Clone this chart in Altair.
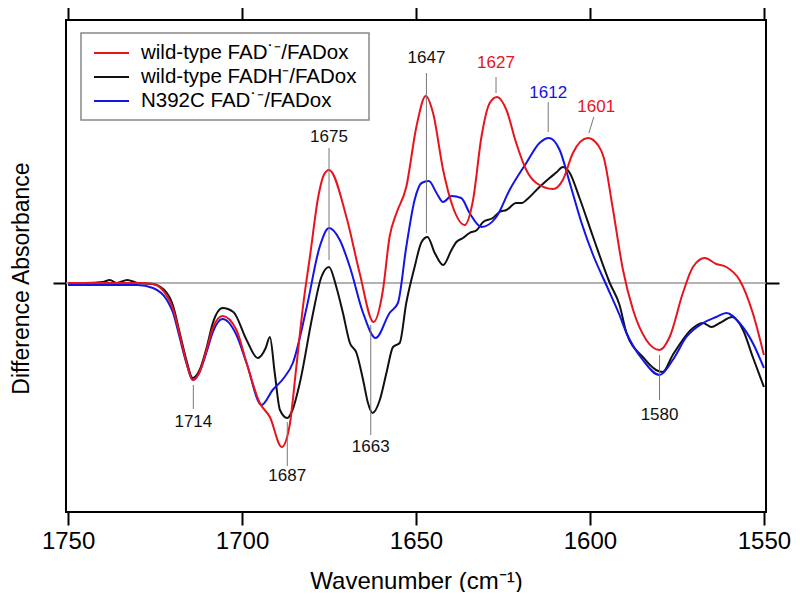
import altair as alt
import pandas as pd

# ---------------- data ----------------
red_wn = [1750, 1740, 1730, 1725.6, 1721.6, 1719.9, 1717.9, 1716, 1714.2, 1712.2,
          1710.2, 1708.4, 1705.6, 1701.6, 1698.7, 1694.9, 1692, 1688.6, 1686.4, 1684.4,
          1682.5, 1680.5, 1678, 1676.5, 1675, 1670, 1666.2, 1662.2, 1659.5, 1657.6,
          1655.6, 1652.8, 1649.9, 1647.2, 1645.1, 1642.2, 1639.4, 1636, 1633.6, 1631.2,
          1628.8, 1626.7, 1624, 1621.2, 1618.3, 1615.4, 1610.6, 1607.8, 1604.9, 1600.6,
          1597.5, 1596, 1593.5, 1590.5, 1587.6, 1583.8, 1580, 1577.1, 1573.3, 1570.4,
          1567, 1563.7, 1560.8, 1557, 1553.2, 1550]
red_val = [0, 0, 0, -0.01, -0.13, -0.25, -0.52, -0.79, -0.97, -0.89,
           -0.67, -0.45, -0.33, -0.47, -0.80, -1.20, -1.34, -1.64, -1.44, -0.84,
           -0.24, 0.26, 0.88, 1.08, 1.13, 0.66, 0.10, -0.39, -0.07, 0.46,
           0.70, 0.96, 1.56, 1.87, 1.70, 1.13, 0.76, 0.58, 0.83, 1.46,
           1.80, 1.86, 1.73, 1.40, 1.13, 1.00, 0.94, 1.03, 1.30, 1.45,
           1.37, 1.25, 0.76, 0.13, -0.27, -0.57, -0.67, -0.54, -0.10, 0.16,
           0.25, 0.19, 0.16, 0.03, -0.30, -0.72]

black_wn = [1750, 1745, 1740, 1738, 1736, 1733, 1730, 1725.6, 1721.6, 1719.9,
            1717.9, 1716, 1714.2, 1712.2, 1710.2, 1708.4, 1705.6, 1702.5, 1698.7, 1695.5,
            1693.2, 1692, 1690.6, 1689.1, 1687, 1685.5, 1683.4, 1679.7, 1677.2, 1675,
            1672.9, 1671, 1669, 1667.1, 1665.2, 1663.8, 1662.5, 1660.4, 1658.5, 1656.6,
            1654.7, 1652.8, 1650.4, 1648.4, 1646.7, 1644.6, 1642.2, 1639.8, 1638.4, 1636.5,
            1634.6, 1632.5, 1630.7, 1627.9, 1626, 1624, 1621.2, 1619.5, 1618.3, 1614.5,
            1611.6, 1609.5, 1607.8, 1605.8, 1603, 1599.1, 1594.3, 1591.5, 1589.5, 1584.8,
            1581, 1579.1, 1576.2, 1570.4, 1567.5, 1565.1, 1562.7, 1559.1, 1556, 1553.2,
            1550]
black_val = [0, 0, 0.01, 0.03, 0, 0.03, 0, -0.01, -0.10, -0.22,
             -0.50, -0.77, -0.95, -0.87, -0.65, -0.40, -0.25, -0.29, -0.57, -0.75,
             -0.65, -0.54, -0.90, -1.27, -1.35, -1.27, -1.00, -0.32, 0.06, 0.16,
             -0.04, -0.30, -0.60, -0.70, -0.97, -1.20, -1.30, -1.17, -0.90, -0.64,
             -0.60, -0.20, 0.16, 0.41, 0.46, 0.30, 0.18, 0.33, 0.41, 0.45,
             0.50, 0.53, 0.61, 0.65, 0.71, 0.73, 0.80, 0.80, 0.83, 0.96,
             1.05, 1.11, 1.16, 1.10, 0.85, 0.46, 0, -0.22, -0.50, -0.74,
             -0.87, -0.89, -0.72, -0.45, -0.40, -0.44, -0.40, -0.34, -0.47, -0.74,
             -1.04]

blue_wn = [1750, 1740, 1730, 1725.6, 1721.6, 1719.9, 1717.9, 1716, 1714.2, 1712.2,
           1710.2, 1708.4, 1705.6, 1701.6, 1698.7, 1694.4, 1691.2, 1688, 1685.4, 1681.4,
           1677.7, 1675, 1671.9, 1669, 1665.2, 1661.6, 1657.6, 1655.2, 1652.8, 1650.4,
           1648.4, 1646.3, 1644.1, 1642.2, 1639.8, 1637, 1634.6, 1631.2, 1626.9, 1623.1,
           1618.3, 1614.5, 1611.8, 1608.7, 1605.8, 1602.5, 1599.1, 1595.3, 1591.5, 1589.5,
           1584.8, 1580, 1576.2, 1572.3, 1567.5, 1563.7, 1560.8, 1557, 1553.2, 1550]
blue_val = [-0.02, -0.02, -0.02, -0.05, -0.17, -0.29, -0.55, -0.80, -0.97, -0.89,
            -0.69, -0.49, -0.36, -0.52, -0.80, -1.22, -1.07, -0.95, -0.80, -0.24,
            0.36, 0.55, 0.43, 0.16, -0.30, -0.55, -0.30, -0.20, 0.36, 0.83,
            1.00, 1.02, 0.90, 0.81, 0.87, 0.85, 0.70, 0.56, 0.66, 0.93,
            1.20, 1.40, 1.45, 1.33, 1.00, 0.61, 0.28, -0.02, -0.32, -0.50,
            -0.77, -0.92, -0.77, -0.54, -0.40, -0.34, -0.30, -0.40, -0.60, -0.85]

series_names = ["wild-type FAD\u02d9\u207b/FADox", "wild-type FADH\u207b/FADox", "N392C FAD\u02d9\u207b/FADox"]
RED, BLACK, BLUE = "#e8141c", "#111111", "#1414e6"
series_colors = [RED, BLACK, BLUE]

ann_labels = ["1714", "1687", "1675", "1663", "1647", "1627", "1612", "1601", "1580"]
ann_wn_low = [1714, 1687, 1675, 1663, 1647, 1627, 1612, 1600.3, 1580]
ann_wn_high = [1714, 1687, 1675, 1663, 1647, 1627, 1612, 1598.9, 1580]
ann_y_low = [-1.26, -1.83, 0.23, -1.52, 0.50, 1.90, 1.51, 1.50, -1.17]
ann_y_high = [-1.02, -1.39, 1.35, -0.42, 2.10, 2.06, 1.81, 1.66, -0.72]
ann_label_wn = [1714, 1687, 1675, 1663, 1647, 1627, 1612, 1598.2, 1580]
ann_label_y = [-1.39, -1.93, 1.46, -1.64, 2.25, 2.20, 1.90, 1.76, -1.32]
ann_colors = [BLACK, BLACK, BLACK, BLACK, BLACK, RED, BLUE, RED, BLACK]

x_ticks = [1750, 1700, 1650, 1600, 1550]
y_ticks = [0]

# ---------------- chart ----------------
FONT = "Liberation Sans"
xscale = alt.Scale(domain=[1549.4, 1750.6], reverse=True, nice=False, zero=False)
yscale = alt.Scale(domain=[-2.29, 2.63], nice=False, zero=False)

df_red = pd.DataFrame({"wn": red_wn, "v": red_val})
df_black = pd.DataFrame({"wn": black_wn, "v": black_val})
df_blue = pd.DataFrame({"wn": blue_wn, "v": blue_val})

bottom_axis = alt.Axis(values=x_ticks, format="d", orient="bottom", domain=False, grid=False,
                       tickSize=13, tickWidth=2, tickColor="black",
                       labelFontSize=24, labelFont=FONT, labelColor="black", labelPadding=4,
                       title="Wavenumber (cm\u207b\u00b9)", titleFontSize=24, titleFont=FONT,
                       titleFontWeight="normal", titleColor="black", titleY=76,
                       titleBaseline="alphabetic")
left_axis = alt.Axis(values=y_ticks, orient="left", domain=False, grid=False, labels=False,
                     tickSize=13, tickWidth=2, tickColor="black",
                     title="Difference Absorbance", titleFontSize=23, titleFont=FONT,
                     titleFontWeight="normal", titleColor="black", titleX=-38, titleY=258,
                     titleBaseline="alphabetic")
top_axis = alt.Axis(values=x_ticks, orient="top", domain=False, grid=False, labels=False,
                    tickSize=13, tickWidth=2, tickColor="black", title=None)
right_axis = alt.Axis(values=y_ticks, orient="right", domain=False, grid=False, labels=False,
                      tickSize=13, tickWidth=2, tickColor="black", title=None)


def line_layer(df, color, xaxis=None, yaxis=None, opacity=1):
    return alt.Chart(df).mark_line(color=color, strokeWidth=2, interpolate="monotone",
                                   opacity=opacity).encode(
        x=alt.X("wn:Q", scale=xscale, axis=xaxis),
        y=alt.Y("v:Q", scale=yscale, axis=yaxis),
    )


zero = alt.Chart(pd.DataFrame({"z": y_ticks})).mark_rule(color="#999999", strokeWidth=1.5).encode(
    y=alt.Y("z:Q", scale=yscale, axis=None)
)

black_line = line_layer(df_black, BLACK, bottom_axis, left_axis)
blue_line = line_layer(df_blue, BLUE)
red_line = line_layer(df_red, RED)
ghost = line_layer(df_black, BLACK, top_axis, right_axis, opacity=0)

ann = pd.DataFrame({"label": ann_labels, "wl": ann_wn_low, "wh": ann_wn_high,
                    "yl": ann_y_low, "yh": ann_y_high, "lw": ann_label_wn,
                    "ly": ann_label_y, "c": ann_colors})
ann_rules = alt.Chart(ann).mark_rule(color="#777777", strokeWidth=1).encode(
    x=alt.X("wl:Q", scale=xscale, axis=None), x2="wh:Q",
    y=alt.Y("yl:Q", scale=yscale, axis=None), y2="yh:Q",
)
ann_text = alt.Chart(ann).mark_text(fontSize=17, font=FONT, baseline="middle", align="center").encode(
    x=alt.X("lw:Q", scale=xscale, axis=None),
    y=alt.Y("ly:Q", scale=yscale, axis=None),
    text="label:N",
    color=alt.Color("c:N", scale=None),
)

# legend (drawn by hand to match the boxed legend)
leg = pd.DataFrame({"label": series_names, "c": series_colors, "row": [0, 1, 2]})
leg_box = alt.Chart(pd.DataFrame({"k": [0]})).mark_rect(
    fill="white", stroke="#888888", strokeWidth=1.5).encode(
    x=alt.value(15), x2=alt.value(303), y=alt.value(13), y2=alt.value(100))
leg_lines = alt.Chart(leg).transform_calculate(py="33 + 24 * datum.row").mark_rule(strokeWidth=2).encode(
    x=alt.value(28), x2=alt.value(63),
    y=alt.Y("py:Q", scale=None),
    color=alt.Color("c:N", scale=None),
)
leg_text = alt.Chart(leg).transform_calculate(py="33 + 24 * datum.row").mark_text(
    fontSize=20.5, font=FONT, align="left", baseline="middle", color="black").encode(
    x=alt.value(75),
    y=alt.Y("py:Q", scale=None),
    text="label:N",
)

chart = alt.layer(
    zero, black_line, blue_line, red_line, ghost, ann_rules, ann_text,
    leg_box, leg_lines, leg_text
).resolve_axis(x="independent", y="independent").properties(
    width=700, height=492,
    autosize=alt.AutoSizeParams(type="none"),
    padding={"left": 58, "top": 12, "right": 26, "bottom": 80},
).configure(font=FONT).configure_view(stroke="black", strokeWidth=2)

chart.save("out.html", embed_options={"renderer": "svg", "actions": False})
